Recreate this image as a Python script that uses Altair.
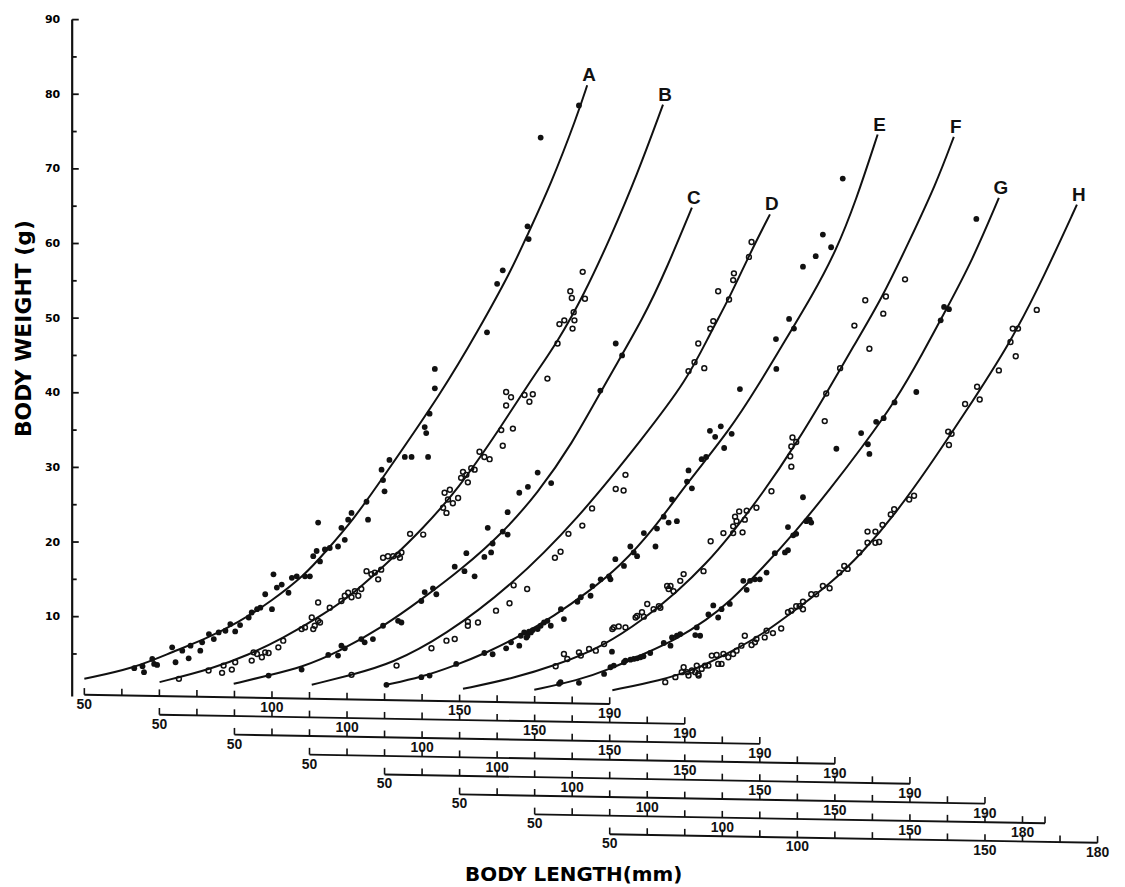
import altair as alt
import pandas as pd

# ---------------- data ----------------
CURVES = ["A", "B", "C", "D", "E", "F", "G", "H"]
FILLED = ["A", "C", "E", "G"]          # solid dots; the others are open circles

# fitted curves: body length (mm) / body weight (g)
A_fit_L = [50, 63.3, 73.4, 82.3, 91.1, 99.9, 108.8, 114.1, 122.0, 129.1, 145.6, 154.9, 163.7, 168.1, 174.3, 181.4, 184.0]
A_fit_W = [1.67, 3.09, 5.27, 7.0, 9.23, 12.1, 15.6, 18.6, 23.2, 28.3, 40.3, 48.3, 56.3, 61.2, 67.9, 77.2, 81.2]
B_fit_L = [50.05, 64.0, 73.8, 82.6, 94.1, 102.0, 111.8, 119.8, 129.5, 141.0, 149.0, 156.1, 163.2, 170.2, 177.3, 184.2]
B_fit_W = [1.23, 3.0, 4.9, 7.0, 10.4, 13.2, 17.7, 21.6, 27.0, 35.4, 41.7, 46.8, 53.2, 60.8, 69.2, 78.6]
C_fit_L = [49.8, 59.0, 67.9, 77.6, 90.0, 99.8, 110.4, 121.9, 130.8, 139.6, 149.3, 159.1, 165.3, 171.9]
C_fit_W = [1.0, 2.13, 3.2, 5.23, 8.77, 12.3, 16.3, 21.4, 26.6, 32.8, 41.7, 50.1, 56.8, 64.8]
D_fit_L = [50.6, 61.2, 71.8, 86.0, 103.7, 121.4, 139.1, 150.6, 156.7, 162.0, 167.3, 172.7]
D_fit_W = [0.87, 2.2, 3.67, 7.44, 14.1, 23.0, 34.1, 41.7, 47.9, 52.8, 58.6, 63.9]
E_fit_L = [50.5, 59.8, 68.7, 77.5, 86.3, 95.2, 104.0, 112.9, 121.7, 130.6, 142.0, 149.6, 155.3, 164.2, 170.3, 175.6, 181.4]
E_fit_W = [0.87, 1.89, 3.44, 5.23, 7.44, 10.1, 13.2, 16.8, 21.7, 27.9, 35.0, 41.0, 45.8, 53.2, 59.0, 65.7, 74.6]
F_fit_L = [50.9, 63.7, 76.1, 88.5, 99.1, 107.9, 115.9, 122.0, 130.9, 139.7, 147.7, 154.8, 162.7, 169.8, 176.9, 181.7]
F_fit_W = [0.33, 1.67, 3.53, 6.1, 9.67, 13.3, 17.2, 20.8, 26.6, 33.2, 39.9, 46.1, 52.8, 60.3, 67.9, 74.3]
G_fit_L = [49.9, 61.4, 70.2, 79.1, 87.9, 95.9, 102.0, 110.9, 119.7, 128.6, 137.4, 146.3, 153.3, 159.5, 166.6, 173.7]
G_fit_W = [0.2, 1.44, 3.0, 5.0, 7.0, 9.6, 12.0, 16.6, 21.5, 27.0, 32.8, 39.0, 45.2, 51.0, 57.7, 66.1]
H_fit_L = [50.7, 63.5, 73.2, 82.0, 90.9, 99.7, 108.6, 117.4, 126.3, 135.1, 144.0, 157.2, 166.0, 174.5]
H_fit_W = [0.15, 1.44, 3.0, 5.2, 7.67, 11.0, 14.3, 18.6, 23.9, 30.1, 36.8, 47.0, 55.9, 65.2]

# observations: body length (mm) / body weight (g)
A_obs_L = [63.3, 65.5, 65.9, 68.1, 68.6, 69.4, 73.4, 74.3, 76.1, 77.8, 78.3, 80.9, 81.4, 83.2, 84.5, 85.8, 87.6,
           88.9, 90.2, 91.5, 93.8, 94.6, 96.0, 96.9, 98.2, 100.0, 100.4, 101.3, 102.6, 104.4, 105.3, 106.6, 108.8,
           110.1, 111.0, 111.9, 112.3, 112.8, 114.1, 115.4, 117.6, 118.5, 119.4, 120.3, 121.2, 125.2, 125.6, 129.2,
           129.6, 130.0, 131.3, 135.4, 137.2, 141.6, 140.7, 141.1, 142.0, 143.4, 143.4, 157.3, 160.0, 161.5, 168.1,
           168.4, 171.6, 181.8]
A_obs_W = [3.09, 3.36, 2.56, 4.33, 3.67, 3.53, 5.89, 3.89, 5.44, 4.42, 6.11, 5.44, 6.56, 7.67, 7.0, 7.89, 8.11,
           9.0, 8.02, 8.87, 9.89, 10.56, 11.0, 11.2, 13.0, 11.0, 15.67, 13.9, 14.3, 13.2, 15.2, 15.4, 15.4,
           15.4, 18.1, 18.8, 22.6, 17.4, 19.0, 19.2, 19.4, 21.9, 20.3, 23.0, 23.9, 25.4, 23.0, 29.7,
           28.3, 26.8, 31.0, 31.4, 31.4, 31.4, 35.4, 34.6, 37.2, 40.6, 43.2, 48.1, 54.6, 56.4, 62.3,
           60.6, 74.2, 78.5]
B_obs_L = [55.2, 63.1, 66.7, 67.1, 69.3, 70.2, 74.6, 75.1, 76.0, 77.3, 78.2, 79.1, 81.7, 83.0, 87.9, 88.8, 90.6,
           91.0, 91.4, 92.3, 92.3, 92.8, 95.4, 98.5, 99.4, 100.3, 101.2, 102.1, 103.0, 103.8, 105.2, 106.5, 107.4,
           108.3, 109.1, 109.6, 110.9, 112.3, 113.6, 114.1, 114.5, 116.8, 120.3, 125.6, 126.0, 126.5, 126.9, 127.4,
           128.2, 129.6, 130.4, 130.9, 131.8, 132.2, 133.1, 134.0, 135.3, 136.6, 138.0, 141.5, 141.1, 144.2, 142.4,
           142.4, 143.7, 147.3, 148.6, 149.5, 153.4, 156.1, 156.6, 157.9, 160.1, 160.6, 160.4, 159.5, 159.9, 163.4,
           162.8]
B_obs_W = [1.67, 2.78, 2.47, 3.44, 2.91, 3.89, 4.11, 5.22, 5.0, 4.56, 5.22, 5.13, 5.89, 6.78, 8.33, 8.56, 9.89,
           8.33, 8.78, 11.9, 9.44, 9.22, 11.2, 12.1, 12.8, 13.2, 12.6, 13.4, 12.8, 13.7, 16.1, 15.7, 15.9,
           15.0, 16.3, 17.9, 18.1, 18.1, 18.3, 17.9, 18.6, 21.1, 21.0, 24.6, 26.6, 23.9, 25.7, 27.0,
           25.2, 25.9, 28.6, 29.4, 29.0, 28.0, 29.9, 29.7, 32.1, 31.4, 31.1, 32.9, 35.0, 35.2, 38.3,
           40.1, 39.4, 39.7, 38.8, 39.8, 41.9, 46.6, 49.2, 49.7, 48.6, 49.7, 50.8, 53.6, 52.7, 52.6,
           56.2]
C_obs_L = [59.1, 67.9, 75.0, 77.6, 78.5, 79.4, 83.8, 84.7, 86.9, 89.6, 93.6, 94.5, 99.8, 100.7, 102.9, 103.8,
           108.7, 111.3, 111.8, 114.0, 116.6, 118.4, 118.8, 117.5, 121.5, 122.8, 122.8, 125.9, 128.2, 130.8, 134.4,
           147.5, 151.6, 153.3]
C_obs_W = [2.11, 2.91, 4.87, 4.78, 6.11, 5.76, 7.0, 6.56, 7.0, 8.78, 9.44, 9.22, 12.1, 13.3, 13.8, 13.0,
           16.7, 16.1, 18.5, 15.4, 18.0, 18.6, 19.8, 21.9, 21.4, 21.0, 24.0, 26.6, 27.4, 29.3, 27.9,
           40.3, 46.6, 45.0]
D_obs_L = [61.2, 73.2, 82.5, 86.5, 88.7, 92.2, 94.9, 92.2, 99.7, 103.3, 104.4, 108.0, 115.4, 116.9, 119.0, 122.7,
           125.3, 131.6, 133.7, 134.2, 151.0, 152.6, 155.2, 153.6, 156.8, 157.6, 158.9, 163.1, 162.9, 161.8, 167.1,
           167.8]
D_obs_W = [2.2, 3.44, 5.76, 6.78, 7.0, 8.78, 9.22, 9.33, 10.8, 11.8, 14.2, 13.7, 17.9, 18.7, 21.1, 22.2,
           24.5, 27.1, 26.9, 29.0, 42.9, 44.1, 43.3, 46.6, 48.6, 49.6, 53.6, 56.0, 55.1, 52.5, 58.2,
           60.2]
E_obs_L = [50.5, 59.8, 62.0, 69.1, 76.6, 78.8, 82.4, 83.7, 85.9, 86.3, 87.2, 87.8, 88.1, 88.5, 89.0, 89.5, 90.8,
           91.6, 92.5, 93.4, 94.3, 97.0, 97.8, 101.4, 102.3, 104.9, 105.4, 107.6, 109.8, 110.2, 111.5, 113.8, 115.5,
           116.4, 117.3, 119.1, 122.2, 122.6, 124.4, 125.7, 126.6, 127.9, 130.6, 131.9, 131.0, 134.5, 135.7, 140.5,
           136.7, 138.1, 139.6, 142.5, 144.7, 154.4, 154.3, 159.1, 157.8, 161.5, 164.9, 166.8, 169.0, 172.1]
E_obs_W = [0.87, 1.89, 2.11, 3.67, 5.13, 4.96, 5.76, 6.56, 6.11, 7.44, 7.89, 7.2, 7.44, 8.0, 7.89, 8.2, 8.33,
           8.78, 9.22, 9.44, 8.78, 11.0, 9.67, 12.0, 12.6, 12.8, 14.1, 15.0, 15.4, 15.0, 17.7, 16.8, 19.4,
           18.6, 18.1, 21.2, 19.4, 21.8, 23.4, 22.6, 25.7, 22.8, 28.1, 27.2, 29.6, 31.1, 31.4, 32.6,
           34.9, 34.1, 35.5, 34.5, 40.5, 43.2, 47.2, 48.6, 49.9, 56.9, 58.3, 61.2, 59.5, 68.7]
F_obs_L = [75.6, 77.8, 78.7, 81.8, 82.3, 84.5, 86.3, 88.5, 90.7, 91.1, 92.4, 94.2, 96.9, 97.3, 98.6, 99.1, 100.0,
           101.7, 103.1, 103.5, 105.3, 105.7, 106.2, 107.0, 108.8, 109.7, 115.0, 116.9, 120.3, 122.9, 125.4, 122.9,
           123.4, 123.8, 124.5, 126.0, 126.5, 129.1, 133.1, 138.4, 138.1, 138.4, 138.7, 139.7, 147.3, 147.7, 151.4,
           159.2, 155.2, 158.1, 162.9, 163.6, 168.7]
F_obs_W = [3.36, 5.0, 4.33, 5.22, 4.78, 5.67, 5.44, 6.33, 8.33, 8.56, 8.69, 8.56, 9.89, 10.1, 10.6, 10.0, 11.7,
           11.0, 11.4, 11.2, 14.1, 13.7, 14.1, 13.4, 14.8, 15.7, 16.1, 20.1, 21.2, 21.2, 21.3, 22.1,
           23.4, 22.8, 24.1, 23.0, 24.2, 24.6, 26.8, 30.1, 31.5, 32.8, 34.0, 33.4, 36.2, 39.9, 43.3,
           45.9, 49.0, 52.4, 50.6, 52.9, 55.2]
G_obs_L = [56.5, 56.9, 61.8, 68.5, 70.2, 71.1, 73.8, 74.2, 75.5, 76.4, 77.3, 78.2, 79.0, 80.8, 84.4, 86.2, 86.6,
           87.9, 88.8, 93.2, 92.8, 94.1, 70.6, 96.3, 97.6, 98.9, 99.8, 102.0, 105.6, 106.5, 107.4, 108.7, 110.0,
           111.8, 114.0, 116.7, 117.5, 118.9, 117.5, 119.7, 121.5, 122.4, 123.3, 123.7, 130.4, 137.0, 138.8, 139.2,
           141.0, 143.0, 145.9, 151.7, 158.2, 159.1, 160.4, 167.7]
G_obs_W = [1.0, 1.22, 1.13, 2.33, 3.22, 3.44, 3.89, 4.11, 4.24, 4.33, 4.42, 4.56, 4.69, 5.13, 6.47, 6.11, 7.22,
           7.44, 7.67, 8.56, 7.53, 7.44, 5.31, 10.3, 11.5, 9.89, 11.0, 11.7, 14.8, 13.6, 14.8, 15.0, 15.0,
           15.9, 18.5, 18.6, 18.9, 20.9, 22.0, 21.1, 26.0, 22.8, 23.0, 22.6, 32.5, 34.6, 33.1, 31.8,
           36.1, 36.6, 38.7, 40.1, 49.7, 51.5, 51.2, 63.3]
H_obs_L = [64.8, 67.5, 69.2, 69.7, 70.6, 71.0, 71.9, 72.8, 73.2, 73.7, 74.5, 75.4, 73.6, 76.3, 77.2, 78.5, 78.9,
           79.8, 80.3, 81.6, 82.9, 83.8, 85.1, 86.0, 87.8, 88.7, 89.1, 91.3, 91.8, 93.5, 95.7, 97.5, 98.4,
           99.7, 100.6, 101.5, 101.5, 103.7, 105.0, 106.8, 108.6, 111.2, 112.5, 113.4, 116.5, 118.7, 118.7, 120.8,
           120.8, 121.8, 122.7, 124.9, 125.8, 129.8, 131.1, 140.2, 141.1, 140.4, 144.7, 147.9, 148.6, 153.7, 156.8,
           158.2, 157.4, 158.8, 163.8]
H_obs_W = [1.22, 1.89, 2.56, 3.22, 2.56, 2.11, 2.78, 2.56, 3.44, 2.11, 3.0, 3.44, 2.33, 3.44, 4.78, 4.87, 3.67,
           3.67, 5.0, 4.56, 5.0, 5.44, 6.11, 7.44, 6.2, 6.56, 7.0, 7.22, 8.11, 7.8, 8.42, 10.6, 10.8,
           11.4, 11.4, 11.0, 12.0, 13.0, 13.0, 14.1, 13.8, 15.9, 16.8, 16.4, 18.6, 21.4, 19.9, 21.4,
           19.9, 20.0, 22.3, 23.7, 24.4, 25.7, 26.2, 34.8, 34.5, 33.0, 38.5, 40.8, 39.1, 43.0, 46.8,
           44.9, 48.6, 48.6, 51.1]

# length scales under the plot (one per curve)
SCALE_END = [190, 190, 190, 190, 190, 190, 186, 180]
SCALE_LABELS = [[50, 100, 150, 190]] * 6 + [[50, 100, 150, 180], [50, 100, 150, 180]]
Y_LABELS = [10, 20, 30, 40, 50, 60, 70, 80, 90]

# ---------------- layout constants ----------------
SHIFT = 20.0            # each successive curve's length axis is shifted by 20 mm
U0 = 46.76              # left edge (where the weight axis stands)
ROW_G0 = -0.47          # first length scale (g units of the shared vertical scale)
ROW_STEP = 2.67
ROW_TILT = 0.0088       # slight slope of the printed scales
TICK_H = 0.9

fits = {"A": (A_fit_L, A_fit_W), "B": (B_fit_L, B_fit_W), "C": (C_fit_L, C_fit_W), "D": (D_fit_L, D_fit_W),
        "E": (E_fit_L, E_fit_W), "F": (F_fit_L, F_fit_W), "G": (G_fit_L, G_fit_W), "H": (H_fit_L, H_fit_W)}
obs = {"A": (A_obs_L, A_obs_W), "B": (B_obs_L, B_obs_W), "C": (C_obs_L, C_obs_W), "D": (D_obs_L, D_obs_W),
       "E": (E_obs_L, E_obs_W), "F": (F_obs_L, F_obs_W), "G": (G_obs_L, G_obs_W), "H": (H_obs_L, H_obs_W)}

fit_rows, obs_rows, lab_rows = [], [], []
line_rows, tick_rows, tlab_rows = [], [], []
for k, c in enumerate(CURVES):
    Ls, Ws = fits[c]
    for i, (L, W) in enumerate(zip(Ls, Ws)):
        fit_rows.append({"curve": c, "order": i, "u": L + SHIFT * k, "W": W})
    lab_rows.append({"curve": c, "u": Ls[-1] + SHIFT * k, "W": Ws[-1]})
    oL, oW = obs[c]
    for L, W in zip(oL, oW):
        obs_rows.append({"curve": c, "u": L + SHIFT * k, "W": W, "filled": c in FILLED})

    def gline(L, k=k):
        return ROW_G0 - ROW_STEP * k - ROW_TILT * (L - 50)

    end = SCALE_END[k]
    line_rows.append({"u": 50 + SHIFT * k, "u2": end + SHIFT * k, "g": gline(50), "g2": gline(end)})
    marks = list(range(50, end + 1, 10))
    if end not in marks:
        marks.append(end)
    for m in marks:
        tick_rows.append({"u": m + SHIFT * k, "g": gline(m), "g2": gline(m) + TICK_H})
    for m in SCALE_LABELS[k]:
        tlab_rows.append({"u": m + SHIFT * k, "g": gline(m), "text": str(m)})

fit_df = pd.DataFrame(fit_rows)
obs_df = pd.DataFrame(obs_rows)
lab_df = pd.DataFrame(lab_rows)
line_df = pd.DataFrame(line_rows)
tick_df = pd.DataFrame(tick_rows)
tlab_df = pd.DataFrame(tlab_rows)

yt_rows = []
for v in range(5, 91, 5):
    yt_rows.append({"u": U0, "u2": U0 + (1.75 if v % 10 == 0 else 1.2), "g": v})
yt_df = pd.DataFrame(yt_rows)
yaxis_df = pd.DataFrame({"u": [U0], "g": [-0.7], "g2": [90.0]})

# ---------------- scales / axes ----------------
xs = alt.Scale(domain=[U0, 322.0], nice=False, zero=False)
ys = alt.Scale(domain=[-24, 90], nice=False, zero=False)
x_axis = alt.Axis(title="BODY LENGTH(mm)", labels=False, ticks=False, domain=False, grid=False,
                  titleX=503.5, titleY=4, titleAlign="center", titleBaseline="middle",
                  titleFont="DejaVu Sans", titleFontSize=20, titleFontWeight="bold", titleColor="black")
y_axis = alt.Axis(title="BODY WEIGHT (g)", values=Y_LABELS, domain=False, ticks=False, tickSize=0, grid=False,
                  labelPadding=12.5, labelFont="DejaVu Sans", labelFontSize=11, labelFontWeight="bold",
                  labelColor="black", titleX=-49, titleY=310, titleAngle=270, titleAlign="center",
                  titleBaseline="middle", titleFont="DejaVu Sans", titleFontSize=22, titleFontWeight="bold",
                  titleColor="black")


def X(f):
    return alt.X(f, type="quantitative", scale=xs, axis=x_axis)


def Y(f):
    return alt.Y(f, type="quantitative", scale=ys, axis=y_axis)


ink = "#111111"

y_line = alt.Chart(yaxis_df).mark_rule(color=ink, strokeWidth=2.2).encode(x=X("u"), y=Y("g"), y2="g2")
y_ticks = alt.Chart(yt_df).mark_rule(color=ink, strokeWidth=1.8).encode(x=X("u"), x2="u2", y=Y("g"))

curves = alt.Chart(fit_df).mark_line(color=ink, strokeWidth=2, interpolate="basis").encode(
    x=X("u"), y=Y("W"), detail="curve:N", order="order:Q")

solid = alt.Chart(obs_df).transform_filter("datum.filled").mark_circle(
    color=ink, size=34, opacity=1).encode(x=X("u"), y=Y("W"))
hollow = alt.Chart(obs_df).transform_filter("!datum.filled").mark_point(
    shape="circle", filled=False, color=ink, size=24, strokeWidth=1.5, opacity=1).encode(x=X("u"), y=Y("W"))

curve_labels = alt.Chart(lab_df).mark_text(
    font="Liberation Sans", fontSize=19, fontWeight="bold", color=ink, align="center",
    baseline="alphabetic", dx=2, dy=-4).encode(x=X("u"), y=Y("W"), text="curve:N")

scale_lines = alt.Chart(line_df).mark_rule(color=ink, strokeWidth=1.9).encode(
    x=X("u"), x2="u2", y=Y("g"), y2="g2")
scale_ticks = alt.Chart(tick_df).mark_rule(color=ink, strokeWidth=1.6).encode(x=X("u"), y=Y("g"), y2="g2")
scale_labels = alt.Chart(tlab_df).mark_text(
    font="Liberation Sans", fontSize=14, fontWeight="bold", color=ink, align="center",
    baseline="middle", dy=10).encode(x=X("u"), y=Y("g"), text="text:N")

chart = alt.layer(
    y_line, y_ticks, curves, solid, hollow, curve_labels, scale_lines, scale_ticks, scale_labels
).properties(
    width=1038, height=855,
    padding={"left": 64.5, "top": 9.5, "right": 12, "bottom": 12},
    autosize=alt.AutoSizeParams(type="none"),
    background="white",
).configure_view(stroke=None)

chart.save("out.html", embed_options={"renderer": "svg", "actions": False})
